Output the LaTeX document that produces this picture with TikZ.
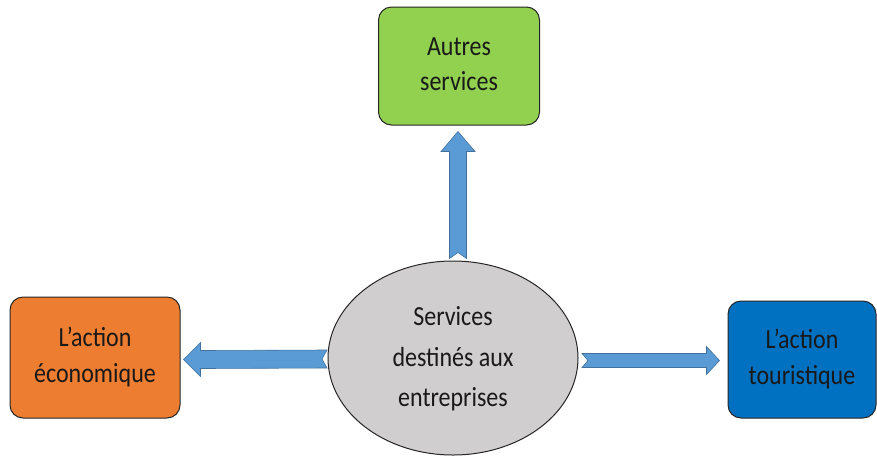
\documentclass[tikz,border=0pt]{standalone}
\usepackage{fontspec}
\setmainfont{Carlito}
\usetikzlibrary{calc,shapes.geometric}
\definecolor{cgreen}{HTML}{92D050}
\definecolor{corange}{HTML}{ED7D31}
\definecolor{cblue}{HTML}{0070C0}
\definecolor{cgray}{HTML}{D0CECE}
\definecolor{carrow}{HTML}{5B9BD5}
\definecolor{carrowline}{HTML}{41719C}
\newcommand\stxt[3]{\raisebox{#3}{\scalebox{1}[1.15]{\fontsize{24}{#2}\selectfont\begin{tabular}{@{}c@{}}#1\end{tabular}}}}
\tikzset{
  boxnode/.style={draw=black!85, line width=1pt, rounded corners=13pt, align=center,
    text=black!90, inner sep=0pt},
  ellnode/.style={draw=black!85, line width=1pt, ellipse, fill=cgray, align=center,
    text=black!90, inner sep=0pt},
  fatarrow/.style={fill=carrow, draw=carrowline, line width=0.6pt, line join=miter}
}
\begin{document}
\begin{tikzpicture}[x=1pt,y=-1pt]
\useasboundingbox (0,0) rectangle (877,456);
\node[boxnode, fill=cgreen, minimum width=161pt, minimum height=118pt] (autres) at (459,66) {\stxt{Autres\\services}{31}{6pt}};
\node[boxnode, fill=corange, minimum width=170pt, minimum height=121pt] (eco) at (95,357.5) {\stxt{L’action\\économique}{31}{5pt}};
\node[boxnode, fill=cblue, minimum width=148pt, minimum height=117pt] (tour) at (802,359.5) {\stxt{L’action\\touristique}{31}{4pt}};
\node[ellnode, minimum width=250pt, minimum height=194pt] (centre) at (453,358) {\stxt{Services\\destinés aux\\entreprises}{35}{0pt}};
% up arrow
\coordinate (uS) at ($(autres.south)+(-1,133)$);
\coordinate (uE) at ($(autres.south)+(-1,6)$);
\draw[fatarrow] ($(uS)+(-8.5,0)$) -- ($(uE)+(-8.5,20)$) -- ($(uE)+(-17,20)$) -- (uE)
  -- ($(uE)+(17,20)$) -- ($(uE)+(8.5,20)$) -- ($(uS)+(8.5,0)$) -- ($(uS)+(0,-6)$) -- cycle;
% left arrow
\coordinate (lS) at (327,359);
\coordinate (lE) at ($(eco.east)+(3,2)$);
\draw[fatarrow] ($(lS)+(0,-9)$) -- ($(lE)+(17,-9)$) -- ($(lE)+(17,-17)$) -- (lE)
  -- ($(lE)+(17,17)$) -- ($(lE)+(17,9)$) -- ($(lS)+(0,9)$) -- ($(lS)+(-5,0)$) -- cycle;
% right arrow
\coordinate (rS) at (582,360.5);
\coordinate (rE) at ($(tour.west)+(-8,1)$);
\draw[fatarrow] ($(rS)+(0,-7)$) -- ($(rE)+(-13,-7)$) -- ($(rE)+(-13,-14)$) -- (rE)
  -- ($(rE)+(-13,14)$) -- ($(rE)+(-13,7)$) -- ($(rS)+(0,7)$) -- ($(rS)+(6,0)$) -- cycle;
\end{tikzpicture}
\end{document}
